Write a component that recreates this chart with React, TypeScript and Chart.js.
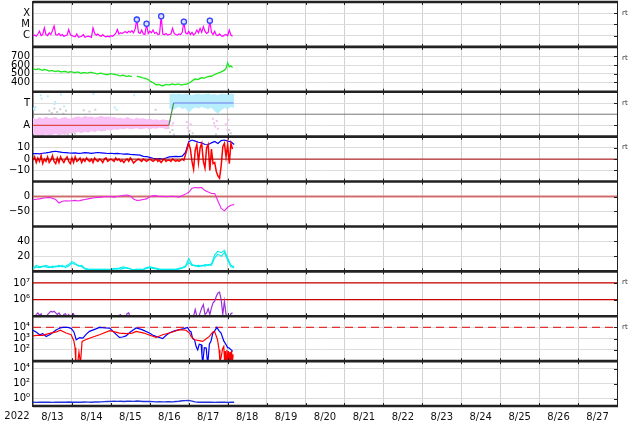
import React, { useEffect, useRef } from 'react';
import { Chart, registerables } from 'chart.js';

Chart.register(...registerables);

const FONT = 'DejaVu Sans';

// ---------- time axis (days since 2022-08-13 00:00) ----------
const DAY_LABELS = ['8/13', '8/14', '8/15', '8/16', '8/17', '8/18', '8/19', '8/20', '8/21', '8/22', '8/23', '8/24', '8/25', '8/26', '8/27'];
const YEAR_LABEL = '2022';
const X_MIN = 0;
const X_MAX = 15;

// ---------- panel 1: X-ray flux (log10), hourly ----------
const XRAY_LOG = [
  -6.0, -5.95, -6.05, -5.85, -5.6, -6.0, -5.9, -5.3, -5.9, -6.0, -5.75, -5.9, -5.55, -5.15, -5.9, -5.95, -5.8, -6.0, -5.9, -6.05, -6.0, -5.95, -5.45, -5.9,
  -6.0, -6.05, -6.1, -5.85, -6.15, -6.1, -6.05, -5.9, -6.15, -6.1, -6.05, -6.1, -6.15, -5.3, -5.8, -5.95, -5.85, -6.0, -6.05, -5.9, -6.05, -6.1, -6.05, -6.1,
  -6.0, -6.05, -5.95, -5.8, -5.45, -5.85, -5.75, -5.8, -5.7, -5.65, -5.75, -5.6, -5.7, -5.55, -5.75, -5.4, -4.57, -5.7, -5.8, -5.5, -5.85, -5.9, -4.94, -5.8,
  -5.6, -5.75, -5.5, -5.8, -5.7, -5.9, -5.85, -4.27, -5.85, -5.9, -5.8, -5.95, -5.9, -5.85, -5.35, -5.8, -5.9, -5.95, -5.85, -5.9, -5.7, -4.75, -5.75, -5.85,
  -5.6, -5.9, -5.7, -5.95, -5.8, -5.5, -5.75, -5.35, -5.7, -5.2, -5.6, -5.8, -5.7, -4.66, -5.7, -5.9, -5.6, -5.95, -6.0, -5.85, -6.0, -6.05, -5.95, -5.9,
  -6.0, -5.5, -5.95, -6.05,
];
const FLARE_DAYS = [2.667, 2.917, 3.292, 3.875, 4.542];
const FLARE_LOG = [-4.57, -4.94, -4.27, -4.75, -4.66];
const XRAY_TICKS = [-6, -5, -4];
const XRAY_LABELS = ['C', 'M', 'X'];

// ---------- panel 2: solar wind speed, hourly ----------
const SPEED = [
  558, 550, 548, 555, 552, 545, 540, 548, 545, 538, 530, 536, 535, 528, 525, 532, 530, 522, 520, 527, 525, 518, 515, 522,
  520, 514, 512, 518, 518, 510, 505, 512, 512, 506, 508, 514, 515, 508, 505, 500, 498, 504, 505, 498, 495, 490, 490, 495,
  500, 494, 495, 488, 485, 478, 475, 482, 480, 470, 468, 474, 472, 466, null, null, 470, 466, 462, 455, 450, 446, 440, 432,
  415, 405, 395, 382, 368, 375, 372, 362, 360, 368, 375, 370, 370, 376, 380, 372, 372, 378, 378, 370, 370, 376, 375, 382,
  390, 400, 415, 428, 440, 432, 435, 445, 455, 448, 450, 460, 465, 470, 470, 482, 490, 498, 505, 512, 520, 530, 540, 560,
  625, 580, 590, 570,
];
const SPEED_TICKS = [400, 500, 600, 700];
const SPEED_LABELS = ['400', '500', '600', '700'];

// ---------- panel 3: sector (T / A) ----------
const SECTOR_DAYS = [0, 3.49, 3.61, 5.15];
const SECTOR_VALUES = [-1, -1, 1, 1];
const PINK_UPPER = [
  -0.35, -0.5, -0.3, -0.45, -0.25, -0.4, -0.35, -0.3, -0.5, -0.35, -0.3, -0.45,
  -0.4, -0.3, -0.25, -0.35, -0.2, -0.3, -0.25, -0.35, -0.3, -0.2, -0.3, -0.25,
  -0.35, -0.3, -0.4, -0.35, -0.45, -0.3, -0.4, -0.5, -0.35, -0.45, -0.4, -0.5,
  -0.45, -0.55, -0.5, -0.6, -0.5, -0.55, -0.6,
];
const PINK_LOWER = [
  -1.7, -1.85, -1.8, -1.9, -1.75, -1.85, -1.8, -1.7, -1.85, -1.75, -1.8, -1.65,
  -1.7, -1.6, -1.55, -1.65, -1.5, -1.6, -1.45, -1.55, -1.4, -1.5, -1.45, -1.35,
  -1.4, -1.3, -1.35, -1.25, -1.3, -1.2, -1.3, -1.25, -1.2, -1.3, -1.25, -1.2,
  -1.3, -1.2, -1.25, -1.15, -1.2, -1.3, -1.25,
];
const LBLUE_START = 3.5;
const LBLUE_UPPER = [1.7, 1.8, 1.75, 1.8, 1.7, 1.8, 1.75, 1.65, 1.75, 1.8, 1.7, 1.75, 1.8, 1.7, 1.75, 1.65, 1.8, 1.75, 1.7, 1.8, 1.75];
const LBLUE_LOWER = [0.6, 0.4, 0.55, 0.7, 0.5, 0.6, 0.2, 0.5, 0.65, 0.55, 0.7, 0.6, 0.5, 0.65, 0.3, 0.1, 0.4, 0.6, 0.5, 0.7, 0.6];
const LBLUE_DOT_DAYS = [0.02, 0.04, 0.06, 0.2, 0.22, 0.38, 0.55, 0.57, 0.72, 0.8, 1.55, 2.1, 2.15, 2.6];
const LBLUE_DOT_VALS = [0.5, 0.4, 0.65, 1.7, 1.4, 1.6, 0.9, 1.1, 1.75, 0.7, 1.8, 0.6, 0.4, 1.7];
const GRAY_DOT_DAYS = [0.42, 0.48, 0.55, 0.62, 0.7, 0.78, 0.85, 0.8, 0.9, 1.0, 1.08, 1.3, 1.45, 1.6, 3.15, 3.48, 3.52, 3.58, 3.62, 4.02, 4.1, 4.7, 5.04, 5.08];
const GRAY_DOT_VALS = [0.3, 0.1, 0.5, 0.2, 0.45, 0.05, 0.3, -1.6, -1.8, -1.7, -1.75, 0.35, 0.25, 0.4, 0.4, -1.2, -1.6, -1.4, -1.8, -1.5, -1.7, -1.8, -1.4, -1.7];
const PINK_DOT_DAYS = [3.52, 3.56, 3.6, 3.95, 3.97, 4.0, 4.05, 4.62, 4.65, 4.68, 4.72, 4.75, 4.95, 5.0, 5.02];
const PINK_DOT_VALS = [-0.6, -1.0, -0.8, -0.7, -1.2, -1.5, -0.9, -0.4, -0.8, -1.1, -0.6, -1.3, -0.9, -1.4, -0.5];
const SECTOR_TICKS = [-1, 1];
const SECTOR_LABELS = ['A', 'T'];

// ---------- panel 4: IMF Bt (2-hourly) and Bz (hourly) ----------
const BT = [
  4.8, 5.0, 4.6, 5.2, 5.5, 6.0, 6.6, 7.0, 6.5, 6.0, 5.8, 5.5,
  5.3, 5.6, 5.2, 5.4, 5.8, 5.5, 5.2, 5.5, 5.9, 5.6, 5.3, 5.0,
  5.2, 4.9, 5.1, 4.8, 4.5, 4.6, 4.2, 4.0, 3.8, 3.5, 2.5, 2.3,
  1.5, 0.8, 0.2, 0.5, 0.0, 1.0, 2.0, 2.3, 2.5, 2.2, 2.6, 6.0,
  15.5, 17.0, 16.0, 15.0, 14.5, 13.0, 12.8, 14.5, 15.8, 14.0, 16.5, 17.0,
  16.0, 15.5, 13.0,
];
const BZ = [
  -1, 2, -3, 1, -2, 3, -4, 0, -2, 2, -3, -1, 3, -2, -4, 1, -3, 2, -1, -3, 0, 2, -2, -4,
  1, -3, 2, -2, -1, 1, -3, 0, -2, 1, -1, -2, 0, -3, 1, -1, -2, 0, -1, -3, 0, 1, -2, -1,
  0, -1, -2, 1, -1, 0, -2, -1, -3, -1, 0, -2, 1, -1, -3.5, -2, -1, 0, -1, -2, 0, -1, -2, -1,
  0, -1, -2, -1, 0, -2, -1, -3, -1, 0, -2, -1, -1, -2, 0, -1, -2, -1, -2, -1, 0, -1, 4, 9,
  14, 9, -2, -9, 8, 13, -3, 10, 14, -2, -8, 10, 13, -10, 9, -4, -3, -11, -15, -17, -6, 11, 14, 2, 13, -4, 14, 9,
];
const BZ_ZERO = 0;
const B_TICKS = [-10, 0, 10];
const B_LABELS = ['\u221210', '0', '10'];

// ---------- panel 5: Dst, 2-hourly ----------
const DST = [
  -11, -9, -8, -6, -4, -3, -6, -10, -22, -16, -14, -15,
  -14, -13, -15, -12, -10, -8, -6, -4, -3, -2, -1, 0,
  -1, -2, 0, 2, 4, 5, 2, -8, -13, -12, -10, -8,
  -1, 3, 2, 0, 1, -1, 0, 1, 0, -2, 3, 8,
  14, 28, 30, 29, 30, 20, 15, 10, 10, -15, -40, -48,
  -36, -29, -27,
];
const DST_ZERO = 0;
const DST_TICKS = [-50, 0];
const DST_LABELS = ['\u221250', '0'];

// ---------- panel 6: density, 2-hourly (two traces) ----------
const DENSITY_A = [
  4, 8, 6, 7, 6, 5, 7, 6, 8, 6, 7, 9,
  13, 11, 7, 8, 4, 3, 2, 3, 2, 3, 2, 3,
  2, 4, 3, 5, 6, 4, 3, 2, 3, 2, 3, 5,
  6, 5, 4, 3, 2, 3, 2, 3, 2, 4, 5, 7,
  17, 9, 7, 8, 7, 9, 8, 10, 22, 27, 25, 28,
  18, 8, 6,
];
const DENSITY_B = [
  3, 6, 5, 6, 8, 6, 5, 7, 6, 8, 5, 7,
  11, 9, 8, 6, 3, 2, 3, 2, 3, 2, 3, 2,
  3, 3, 4, 3, 4, 5, 3, 2, 2, 3, 2, 4,
  5, 4, 3, 2, 3, 2, 3, 2, 3, 3, 4, 6,
  12, 8, 8, 6, 8, 7, 9, 8, 18, 23, 20, 25,
  15, 6, 5,
];
const DENSITY_TICKS = [20, 40];
const DENSITY_LABELS = ['20', '40'];

// ---------- panel 7: purple (log10), hourly ----------
const PURPLE_LOG = [
  4.9, 4.9, 5.1, 5.2, 5.05, 5.15, 4.9, 4.9, 4.95, 5.1, 5.2, 5.3, 5.25, 5.3, 5.2, 5.1, 5.2, 5.05, 4.9, 5.1, 5.15, 5.0, 5.1, 4.9,
  5.05, 5.15, 4.9, 4.9, 4.9, 4.9, 4.9, 4.9, 4.9, 4.9, 4.9, 4.9, 4.9, 4.9, 4.9, 4.9, 4.9, 4.9, 4.9, 4.9, 4.9, 4.9, 4.9, 4.9,
  4.9, 4.9, 4.9, 4.9, 4.9, 5.05, 5.1, 4.9, 4.9, 4.9, 5.15, 5.2, 4.9, 4.9, 4.9, 4.9, 4.9, 4.9, 4.9, 4.9, 4.9, 4.9, 4.9, 4.9,
  4.9, 4.9, 4.9, 4.9, 4.9, 4.9, 4.9, 4.9, 4.9, 4.9, 4.9, 4.9, 4.9, 4.9, 4.9, 4.9, 4.9, 4.9, 4.9, 4.9, 4.9, 4.9, 4.9, 4.9,
  4.9, 4.9, 4.9, 5.0, 5.4, 5.0, 4.9, 5.2, 5.5, 5.7, 5.1, 5.2, 5.45, 5.1, 5.5, 5.8, 5.9, 6.2, 6.4, 6.45, 6.0, 5.1, 5.9, 5.1,
  4.9, 4.9, 5.15, 5.2,
];
const PURPLE_REF_LINES = [6, 7];
const PURPLE_TICKS = [6, 7];
const PURPLE_LABELS = ['10\u2076', '10\u2077'];

// ---------- panel 8: fluxes (log10) ----------
const FLUX_BLUE_DAYS = [0, 0.08, 0.17, 0.25, 0.34, 0.45, 0.6, 0.7, 0.77, 0.9, 0.98, 1.05, 1.11, 1.2, 1.28, 1.37, 1.45, 1.6, 1.71, 1.85, 1.97, 2.1, 2.22, 2.3, 2.39, 2.5, 2.65, 2.8, 2.99, 3.08, 3.16, 3.25, 3.33, 3.42, 3.5, 3.63, 3.76, 3.88, 3.97, 4.02, 4.06, 4.1, 4.15, 4.19, 4.23, 4.27, 4.32, 4.34, 4.36, 4.4, 4.45, 4.47, 4.49, 4.53, 4.57, 4.62, 4.66, 4.72, 4.78, 4.83, 4.9, 4.96, 5.0, 5.04, 5.09, 5.13];
const FLUX_BLUE = [3.75, 3.6, 3.35, 3.45, 3.2, 3.4, 3.8, 3.95, 4.0, 4.0, 3.92, 3.6, 2.9, 3.1, 3.05, 3.4, 3.65, 3.85, 4.0, 3.95, 3.94, 3.5, 3.11, 3.15, 3.25, 3.6, 3.95, 3.8, 3.5, 3.3, 3.2, 3.1, 3.0, 3.3, 3.5, 3.7, 3.8, 3.9, 4.0, 3.7, 3.6, 3.0, 2.9, 2.3, 2.0, 2.5, 2.46, 1.5, 0.8, 2.2, 2.17, 1.3, 0.8, 2.5, 2.76, 3.5, 3.65, 4.0, 3.7, 3.5, 2.8, 2.46, 2.2, 2.17, 2.0, 1.87];
const FLUX_RED_DAYS = [0, 0.1, 0.25, 0.4, 0.6, 0.7, 0.85, 0.98, 1.05, 1.08, 1.1, 1.15, 1.18, 1.22, 1.26, 1.35, 1.5, 1.71, 1.97, 2.1, 2.22, 2.4, 2.55, 2.65, 2.85, 3.0, 3.16, 3.33, 3.55, 3.76, 3.93, 4.02, 4.06, 4.15, 4.3, 4.36, 4.45, 4.53, 4.62, 4.66, 4.7, 4.74, 4.78, 4.8, 4.83, 4.87, 4.9, 4.92, 4.94, 4.96, 4.98, 5.0, 5.02, 5.04, 5.06, 5.08, 5.1, 5.12, 5.14];
const FLUX_RED = [3.25, 3.3, 3.3, 3.45, 3.6, 3.75, 3.5, 3.35, 2.8, 2.2, 0.8, 0.9, 1.8, 0.8, 2.76, 2.9, 3.1, 3.35, 3.71, 3.6, 3.5, 3.45, 3.5, 3.65, 3.5, 3.3, 3.11, 3.35, 3.55, 3.8, 3.75, 3.5, 3.2, 2.9, 2.8, 2.76, 3.0, 3.2, 3.6, 3.65, 3.3, 2.9, 2.0, 1.0, 1.28, 2.1, 2.3, 1.0, 1.9, 0.9, 2.0, 0.8, 1.9, 0.9, 1.8, 0.8, 1.9, 0.8, 1.6];
const FLUX_THRESHOLD = 4;
const FLUX_TICKS = [2, 3, 4];
const FLUX_LABELS = ['10\u00b2', '10\u00b3', '10\u2074'];

// ---------- panel 9: low flux (log10), 2-hourly ----------
const LOWFLUX = [
  -0.5, -0.52, -0.5, -0.48, -0.5, -0.5, -0.52, -0.5, -0.48, -0.5, -0.5, -0.47,
  -0.5, -0.5, -0.48, -0.5, -0.47, -0.48, -0.5, -0.46, -0.47, -0.45, -0.42, -0.4,
  -0.38, -0.35, -0.38, -0.36, -0.4, -0.37, -0.35, -0.38, -0.33, -0.36, -0.4, -0.38,
  -0.4, -0.42, -0.45, -0.43, -0.45, -0.44, -0.42, -0.45, -0.4, -0.36, -0.3, -0.28,
  -0.25, -0.35, -0.45, -0.5, -0.5, -0.48, -0.5, -0.5, -0.52, -0.5, -0.5, -0.5,
  -0.52, -0.5, -0.5,
];
const LOWFLUX_TICKS = [0, 2, 4];
const LOWFLUX_LABELS = ['10\u2070', '10\u00b2', '10\u2074'];

// ---------- panel layout ----------
const PANELS = [
  { id: 'p0', min: -7, max: -3, ticks: XRAY_TICKS, labels: XRAY_LABELS, rt: true },
  { id: 'p1', min: 290, max: 810, ticks: SPEED_TICKS, labels: SPEED_LABELS, rt: true },
  { id: 'p2', min: -2, max: 2, ticks: SECTOR_TICKS, labels: SECTOR_LABELS, rt: true },
  { id: 'p3', min: -20, max: 20, ticks: B_TICKS, labels: B_LABELS, rt: true },
  { id: 'p4', min: -100, max: 50, ticks: DST_TICKS, labels: DST_LABELS, rt: false },
  { id: 'p5', min: 0, max: 60, ticks: DENSITY_TICKS, labels: DENSITY_LABELS, rt: false },
  { id: 'p6', min: 5, max: 7.7, ticks: PURPLE_TICKS, labels: PURPLE_LABELS, rt: true },
  { id: 'p7', min: 1, max: 5, ticks: FLUX_TICKS, labels: FLUX_LABELS, rt: true },
  { id: 'p8', min: -1, max: 5, ticks: LOWFLUX_TICKS, labels: LOWFLUX_LABELS, rt: false },
];

const stepSeries = (vals: (number | null)[], step: number, start = 0) =>
  vals.map((y, i) => ({ x: start + i * step, y }));
const pairSeries = (xs: number[], ys: number[]) => xs.map((x, i) => ({ x, y: ys[i] }));
const hLine = (v: number) => [{ x: X_MIN, y: v }, { x: X_MAX, y: v }];

const HOUR = 1 / 24;
const TWO_HOURS = 1 / 12;

const line = (axis: string, data: any[], color: string, width = 1, extra: any = {}) => ({
  type: 'line',
  yAxisID: axis,
  data,
  borderColor: color,
  backgroundColor: color,
  borderWidth: width,
  pointRadius: 0,
  fill: false,
  tension: 0,
  spanGaps: false,
  clip: 0,
  ...extra,
});
const dots = (axis: string, data: any[], color: string, extra: any = {}) => ({
  type: 'line',
  yAxisID: axis,
  data,
  showLine: false,
  pointRadius: 1.4,
  pointStyle: 'rect',
  pointBackgroundColor: color,
  pointBorderColor: color,
  pointBorderWidth: 0,
  clip: 0,
  ...extra,
});

const SECTOR_COLORS = ['#e04848', '#4a8a4a', '#6a78f0'];

const framePlugin = {
  id: 'frame',
  afterDraw(chart: any) {
    const { ctx, chartArea: a, scales } = chart;
    const xs = scales.x;
    ctx.save();
    ctx.strokeStyle = '#222';
    ctx.lineWidth = 1;
    PANELS.forEach((p) => {
      const s = scales[p.id];
      for (let d = 1; d < X_MAX; d++) {
        const x = Math.round(xs.getPixelForValue(d)) + 0.5;
        ctx.beginPath();
        ctx.moveTo(x, s.top);
        ctx.lineTo(x, s.top + 3);
        ctx.moveTo(x, s.bottom);
        ctx.lineTo(x, s.bottom - 3);
        ctx.stroke();
      }
      p.ticks.forEach((v: number) => {
        const y = Math.round(s.getPixelForValue(v)) + 0.5;
        ctx.beginPath();
        ctx.moveTo(a.right - 3, y);
        ctx.lineTo(a.right, y);
        ctx.stroke();
      });
    });
    ctx.beginPath();
    ctx.moveTo(a.right + 0.5, a.top);
    ctx.lineTo(a.right + 0.5, a.bottom);
    ctx.stroke();
    ctx.lineWidth = 2.6;
    ctx.strokeStyle = '#222';
    PANELS.forEach((p) => {
      const s = scales[p.id];
      ctx.beginPath();
      ctx.moveTo(a.left, s.top);
      ctx.lineTo(a.right + 1, s.top);
      ctx.stroke();
    });
    ctx.beginPath();
    ctx.moveTo(a.left, a.bottom);
    ctx.lineTo(a.right + 1, a.bottom);
    ctx.stroke();
    ctx.fillStyle = '#333';
    ctx.font = `7px ${FONT}`;
    ctx.textAlign = 'left';
    ctx.textBaseline = 'middle';
    PANELS.forEach((p) => {
      if (p.rt) ctx.fillText('rt', a.right + 5, scales[p.id].top + 11);
    });
    ctx.fillStyle = '#111';
    ctx.font = `10px ${FONT}`;
    ctx.textAlign = 'center';
    ctx.fillText(YEAR_LABEL, 17, a.bottom + 10.5);
    ctx.restore();
  },
};

const zeroPadding = (s: any) => {
  s.paddingTop = 0;
  s.paddingBottom = 0;
  s.paddingLeft = 0;
  s.paddingRight = 0;
};

export default function App() {
  const ref = useRef<HTMLCanvasElement | null>(null);

  useEffect(() => {
    if (!ref.current) return;

    const xTicks = Array.from({ length: (X_MAX - X_MIN) * 2 + 1 }, (_, i) => X_MIN + i / 2);

    const scales: any = {
      x: {
        type: 'linear',
        position: 'bottom',
        min: X_MIN,
        max: X_MAX,
        afterBuildTicks: (s: any) => {
          s.ticks = xTicks.map((v) => ({ value: v }));
        },
        afterFit: (s: any) => {
          s.height = 18;
          zeroPadding(s);
        },
        ticks: {
          autoSkip: false,
          maxRotation: 0,
          padding: 5,
          color: '#111',
          font: { family: FONT, size: 10 },
          callback: (v: number) => {
            const d = Math.floor(v);
            return v - d === 0.5 && DAY_LABELS[d] ? DAY_LABELS[d] : '';
          },
        },
        grid: {
          drawTicks: false,
          lineWidth: 1,
          color: (c: any) =>
            c.tick && Number.isInteger(c.tick.value) && c.tick.value > X_MIN && c.tick.value < X_MAX
              ? '#d2d2d2'
              : 'rgba(0,0,0,0)',
        },
        border: { display: false },
      },
    };

    PANELS.forEach((p, i) => {
      scales[p.id] = {
        type: 'linear',
        position: 'left',
        stack: 'panels',
        stackWeight: 1,
        weight: PANELS.length - i,
        min: p.min,
        max: p.max,
        afterBuildTicks: (s: any) => {
          s.ticks = p.ticks.map((v) => ({ value: v }));
        },
        afterFit: (s: any) => {
          s.width = 33;
          zeroPadding(s);
        },
        ticks: {
          autoSkip: false,
          padding: 3,
          color: '#000',
          font: { family: FONT, size: 10 },
          callback: (v: number) => {
            const k = p.ticks.indexOf(v);
            return k >= 0 ? p.labels[k] : '';
          },
        },
        grid: { drawTicks: false, color: '#dcdcdc', lineWidth: 1 },
        border: { display: true, color: '#222', width: 1.5 },
      };
    });

    const datasets: any[] = [
      dots('p0', pairSeries(FLARE_DAYS, FLARE_LOG), '#ddddff', {
        pointStyle: 'circle',
        pointRadius: 2.6,
        pointBorderWidth: 1.3,
        pointBorderColor: '#3344ff',
        order: 0,
      }),
      line('p0', stepSeries(XRAY_LOG, HOUR), '#ff00ff', 1.2, { order: 1 }),
      line('p1', stepSeries(SPEED, HOUR), '#1ae81a', 1.3, { order: 1 }),
      line('p2', pairSeries(SECTOR_DAYS, SECTOR_VALUES), '#e04848', 1.2, {
        order: 0,
        segment: { borderColor: (c: any) => SECTOR_COLORS[c.p0DataIndex] },
      }),
      line('p2', hLine(0), '#777777', 1, { order: 2 }),
      dots('p2', pairSeries(GRAY_DOT_DAYS, GRAY_DOT_VALS), '#cfcfcf', { order: 4 }),
      dots('p2', pairSeries(LBLUE_DOT_DAYS, LBLUE_DOT_VALS), '#b4ecfb', { order: 4 }),
      dots('p2', pairSeries(PINK_DOT_DAYS, PINK_DOT_VALS), '#f7bcf4', { order: 4 }),
      line('p2', stepSeries(PINK_UPPER, TWO_HOURS), '#f9bcf5', 1, { order: 6, fill: '+1', backgroundColor: '#f9c2f6' }),
      line('p2', stepSeries(PINK_LOWER, TWO_HOURS), '#f9bcf5', 1, { order: 7 }),
      line('p2', stepSeries(LBLUE_UPPER, TWO_HOURS, LBLUE_START), '#b4ecfb', 1, { order: 6, fill: '+1', backgroundColor: '#b8edfb' }),
      line('p2', stepSeries(LBLUE_LOWER, TWO_HOURS, LBLUE_START), '#b4ecfb', 1, { order: 7 }),
      line('p3', hLine(BZ_ZERO), '#aa0000', 1, { order: 0 }),
      line('p3', stepSeries(BZ, HOUR), '#ff0000', 1.5, { order: 1 }),
      line('p3', stepSeries(BT, TWO_HOURS), '#0000ff', 1.2, { order: 2 }),
      line('p4', stepSeries(DST, TWO_HOURS), '#ee22ee', 1.1, { order: 1 }),
      line('p4', hLine(DST_ZERO), 'rgba(205,95,95,0.9)', 2, { order: 2 }),
      line('p5', stepSeries(DENSITY_A, TWO_HOURS), '#00eeee', 1.1, { order: 1 }),
      line('p5', stepSeries(DENSITY_B, TWO_HOURS), '#00eeee', 1.1, { order: 1 }),
      ...PURPLE_REF_LINES.map((v) => line('p6', hLine(v), '#cc0000', 1.2, { order: 2 })),
      line('p6', stepSeries(PURPLE_LOG, HOUR), '#9a30d8', 1.2, { order: 1 }),
      line('p7', hLine(FLUX_THRESHOLD), '#dd3333', 1.3, { order: 3, borderDash: [8, 5] }),
      line('p7', pairSeries(FLUX_RED_DAYS, FLUX_RED), '#ff0000', 1.2, { order: 1 }),
      line('p7', pairSeries(FLUX_BLUE_DAYS, FLUX_BLUE), '#0000ff', 1.2, { order: 2 }),
      line('p8', stepSeries(LOWFLUX, TWO_HOURS), '#2233dd', 1.4, { order: 1 }),
    ];

    const chart = new Chart(ref.current, {
      type: 'line',
      data: { datasets },
      options: {
        animation: false,
        responsive: false,
        devicePixelRatio: 1,
        events: [],
        layout: { autoPadding: false, padding: { top: 2, right: 17, bottom: 0, left: 0 } },
        plugins: {
          legend: { display: false },
          tooltip: { enabled: false },
          title: { display: false },
        },
        scales,
      },
      plugins: [framePlugin],
    } as any);

    return () => chart.destroy();
  }, []);

  return (
    <div style={{ position: 'fixed', left: 0, top: 0, width: 634, height: 424, background: '#fff' }}>
      <canvas ref={ref} width={634} height={424} style={{ display: 'block' }} />
    </div>
  );
}
